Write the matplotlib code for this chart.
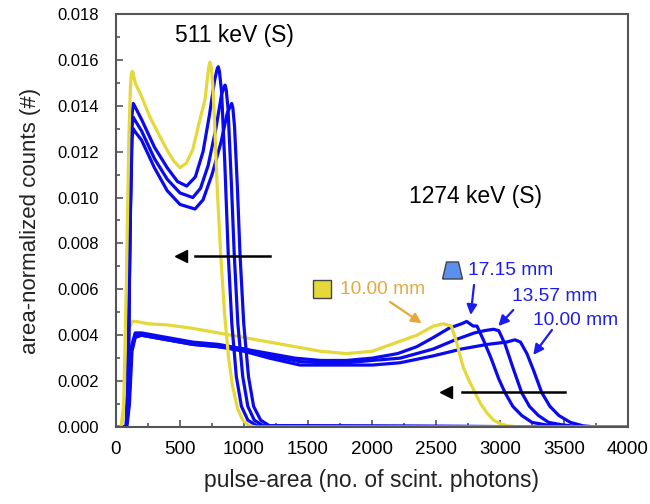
import numpy as np
import matplotlib
matplotlib.use("Agg")
import matplotlib.pyplot as plt
from matplotlib.ticker import MultipleLocator, FormatStrFormatter

plt.rcParams['font.family'] = ['Liberation Sans', 'DejaVu Sans']

### colours
yellow = '#E5D83A'
blue = '#0A0AF0'
orange = '#E6A83A'
text_blue = '#1C1CF0'

### 511 keV (S) spectra
x511_yel = [0, 40, 60, 80, 100, 112, 120, 127, 135, 150, 200, 266, 330, 396, 450, 500, 550, 600, 630, 660, 695, 712, 725, 734, 743, 755, 770, 790, 818, 850, 880, 910, 950, 990, 1040, 1100, 4000]
y511_yel = [0, 0, 0.001, 0.006, 0.0125, 0.0147, 0.0154, 0.0155, 0.0154, 0.0150, 0.0144, 0.0135, 0.0128, 0.0121, 0.0116, 0.0113, 0.0115, 0.0121, 0.0128, 0.0135, 0.01425, 0.0151, 0.0157, 0.0159, 0.0157, 0.0150, 0.0133, 0.0105, 0.0075, 0.0048, 0.0030, 0.0018, 0.0008, 0.0003, 0.00005, 0, 0]

x511_a = [0, 80, 95, 110, 125, 135, 145, 200, 300, 400, 480, 552, 620, 680, 730, 770, 790, 799, 808, 825, 850, 877, 905, 940, 980, 1030, 1100, 4000]
y511_a = [0, 0, 0.002, 0.009, 0.0136, 0.0141, 0.0140, 0.0134, 0.0122, 0.0113, 0.0107, 0.0105, 0.0109, 0.0120, 0.0136, 0.0151, 0.0156, 0.0157, 0.0155, 0.0146, 0.0115, 0.0075, 0.0045, 0.0022, 0.0009, 0.0003, 0.00005, 0]

x511_b = [0, 80, 95, 110, 125, 135, 145, 200, 300, 400, 500, 600, 660, 720, 780, 825, 843, 852, 861, 875, 900, 924, 952, 990, 1030, 1080, 1150, 4000]
y511_b = [0, 0, 0.002, 0.0088, 0.0131, 0.0135, 0.0134, 0.0129, 0.0117, 0.0108, 0.0102, 0.0100, 0.0104, 0.0114, 0.0130, 0.0145, 0.0148, 0.0149, 0.0147, 0.0139, 0.0108, 0.0075, 0.0045, 0.0022, 0.0009, 0.0003, 0.00005, 0]

x511_c = [0, 80, 95, 110, 125, 135, 145, 200, 300, 400, 500, 617, 680, 750, 820, 870, 895, 904, 913, 926, 948, 969, 998, 1035, 1075, 1130, 1200, 4000]
y511_c = [0, 0, 0.002, 0.0085, 0.0126, 0.0130, 0.0129, 0.0125, 0.0113, 0.0103, 0.0097, 0.0095, 0.0099, 0.0110, 0.0124, 0.0137, 0.0140, 0.0141, 0.0139, 0.0131, 0.0105, 0.0075, 0.0045, 0.0022, 0.0009, 0.0003, 0.00005, 0]

### 1274 keV (S) spectra
x1274_yel = [0, 40, 60, 80, 100, 130, 160, 250, 400, 600, 800, 1000, 1200, 1400, 1600, 1800, 2000, 2200, 2350, 2480, 2557, 2620, 2660, 2713, 2760, 2805, 2850, 2900, 2950, 3000, 3060, 3150, 4000]
y1274_yel = [0, 0, 0.0005, 0.003, 0.0043, 0.0046, 0.0046, 0.0045, 0.00445, 0.0043, 0.0041, 0.0039, 0.0037, 0.0035, 0.0033, 0.0032, 0.0033, 0.0037, 0.0040, 0.0044, 0.0045, 0.0044, 0.0037, 0.0026, 0.0020, 0.0015, 0.0010, 0.0006, 0.0003, 0.00015, 0.00005, 0, 0]

# 17.15 mm
x1274_d = [0, 80, 100, 120, 150, 200, 400, 600, 800, 1000, 1200, 1400, 1600, 1800, 2000, 2200, 2350, 2479, 2600, 2700, 2740, 2790, 2820, 2870, 2930, 2990, 3039, 3100, 3170, 3250, 3350, 3450, 4000]
y1274_d = [0, 0, 0.001, 0.0035, 0.0041, 0.0041, 0.0039, 0.0037, 0.0036, 0.0034, 0.0032, 0.0030, 0.0029, 0.0029, 0.0030, 0.0032, 0.0035, 0.0039, 0.0043, 0.0045, 0.0046, 0.0044, 0.0044, 0.0038, 0.0030, 0.0021, 0.0015, 0.0009, 0.0005, 0.0002, 0.0001, 0.00003, 0]

# 13.57 mm
x1274_e = [0, 80, 100, 120, 150, 200, 400, 600, 800, 1000, 1200, 1437, 1600, 1800, 2000, 2219, 2479, 2650, 2800, 2880, 2948, 2990, 3040, 3100, 3169, 3230, 3300, 3380, 3480, 3600, 4000]
y1274_e = [0, 0, 0.001, 0.0034, 0.0040, 0.0040, 0.0038, 0.0036, 0.0035, 0.0034, 0.0031, 0.00285, 0.0028, 0.0028, 0.0029, 0.0030, 0.0034, 0.0038, 0.0041, 0.0042, 0.00426, 0.0042, 0.0036, 0.0026, 0.0015, 0.0009, 0.0005, 0.0002, 0.0001, 0.00002, 0]

# 10.00 mm
x1274_f = [0, 85, 105, 125, 150, 200, 400, 600, 800, 1000, 1200, 1437, 1700, 2000, 2219, 2479, 2700, 2900, 3050, 3117, 3160, 3210, 3260, 3326, 3390, 3460, 3550, 3650, 3750, 4000]
y1274_f = [0, 0, 0.001, 0.0033, 0.0039, 0.0040, 0.0038, 0.0036, 0.0035, 0.0033, 0.0030, 0.0027, 0.0027, 0.0027, 0.0028, 0.0031, 0.0034, 0.0036, 0.0037, 0.0038, 0.0037, 0.0032, 0.0025, 0.0015, 0.0009, 0.0005, 0.0002, 0.00005, 0, 0]


fig = plt.figure(figsize=(6.5, 5.04), dpi=100)
ax = fig.add_axes([116/650, 77/504, 512/650, 413/504])

lw = 2.3
ax.plot(x1274_f, y1274_f, color=blue, lw=lw)
ax.plot(x1274_e, y1274_e, color=blue, lw=lw)
ax.plot(x1274_d, y1274_d, color=blue, lw=lw)
ax.plot(x1274_yel, y1274_yel, color=yellow, lw=lw)
ax.plot(x511_c, y511_c, color=blue, lw=lw)
ax.plot(x511_b, y511_b, color=blue, lw=lw)
ax.plot(x511_a, y511_a, color=blue, lw=lw)
ax.plot(x511_yel, y511_yel, color=yellow, lw=lw)

ax.set_xlim(0, 4000)
ax.set_ylim(0, 0.018)
ax.xaxis.set_major_locator(MultipleLocator(500))
ax.xaxis.set_minor_locator(MultipleLocator(250))
ax.yaxis.set_major_locator(MultipleLocator(0.002))
ax.yaxis.set_minor_locator(MultipleLocator(0.001))
ax.yaxis.set_major_formatter(FormatStrFormatter('%.3f'))

for s in ax.spines.values():
    s.set_color('#555555')
    s.set_linewidth(1.5)
ax.tick_params(which='both', direction='in', color='#555555', width=1.2)
ax.tick_params(which='major', length=5)
ax.tick_params(which='minor', length=3)
ax.tick_params(axis='x', labelsize=13.5, pad=10)
ax.tick_params(axis='y', labelsize=12, pad=12)

ax.set_xlabel('pulse-area (no. of scint. photons)', fontsize=16.5, color='#222222', labelpad=8)
ax.set_ylabel('area-normalized counts (#)', fontsize=16, color='#222222', labelpad=12)

# energy labels
box = dict(facecolor='white', edgecolor='none', pad=1)
ax.text(922, 0.01708, '511 keV (S)', fontsize=16.5, ha='center', va='center', bbox=box)
ax.text(2812, 0.01004, '1274 keV (S)', fontsize=16.5, ha='center', va='center', bbox=box)

# shift arrows
ax.plot([617, 1203], [0.00745, 0.00745], color='k', lw=1.8)
ax.plot([504], [0.00745], marker='<', ms=9, color='k')
ax.plot([2701, 3508], [0.00154, 0.00154], color='k', lw=1.8)
ax.plot([2578], [0.00154], marker='<', ms=9, color='k')

# legend-like annotations
ax.plot([1609], [0.00601], marker='s', ms=13, mfc=yellow, mec='#444444', mew=1.0)
ax.text(1750, 0.00601, '10.00 mm', fontsize=13.8, color=orange, va='center', bbox=box)
trap = [(-1, -0.85), (1, -0.85), (0.6, 0.85), (-0.6, 0.85), (-1, -0.85)]
ax.plot([2625], [0.00684], marker=trap, ms=14.4, mfc='#5B8FF0', mec='#444444', mew=1.0)
ax.text(2750, 0.00684, '17.15 mm', fontsize=13.8, color=text_blue, va='center', bbox=box)
ax.text(3094, 0.00567, '13.57 mm', fontsize=13.8, color=text_blue, va='center', bbox=box)
ax.text(3258, 0.00462, '10.00 mm', fontsize=13.8, color=text_blue, va='center', bbox=box)

arr = '-|>,head_length=0.6,head_width=0.3'
ax.annotate('', xy=(2388, 0.00452), xytext=(2141, 0.00545),
            arrowprops=dict(arrowstyle=arr, color=orange, lw=1.6, shrinkA=0, shrinkB=0))
ax.annotate('', xy=(2771, 0.00488), xytext=(2797, 0.00619),
            arrowprops=dict(arrowstyle=arr, color=text_blue, lw=1.6, shrinkA=0, shrinkB=0))
ax.annotate('', xy=(2987, 0.00440), xytext=(3104, 0.00510),
            arrowprops=dict(arrowstyle=arr, color=text_blue, lw=1.6, shrinkA=0, shrinkB=0))
ax.annotate('', xy=(3260, 0.00314), xytext=(3406, 0.00423),
            arrowprops=dict(arrowstyle=arr, color=text_blue, lw=1.6, shrinkA=0, shrinkB=0))

fig.savefig('out.png', dpi=100)
